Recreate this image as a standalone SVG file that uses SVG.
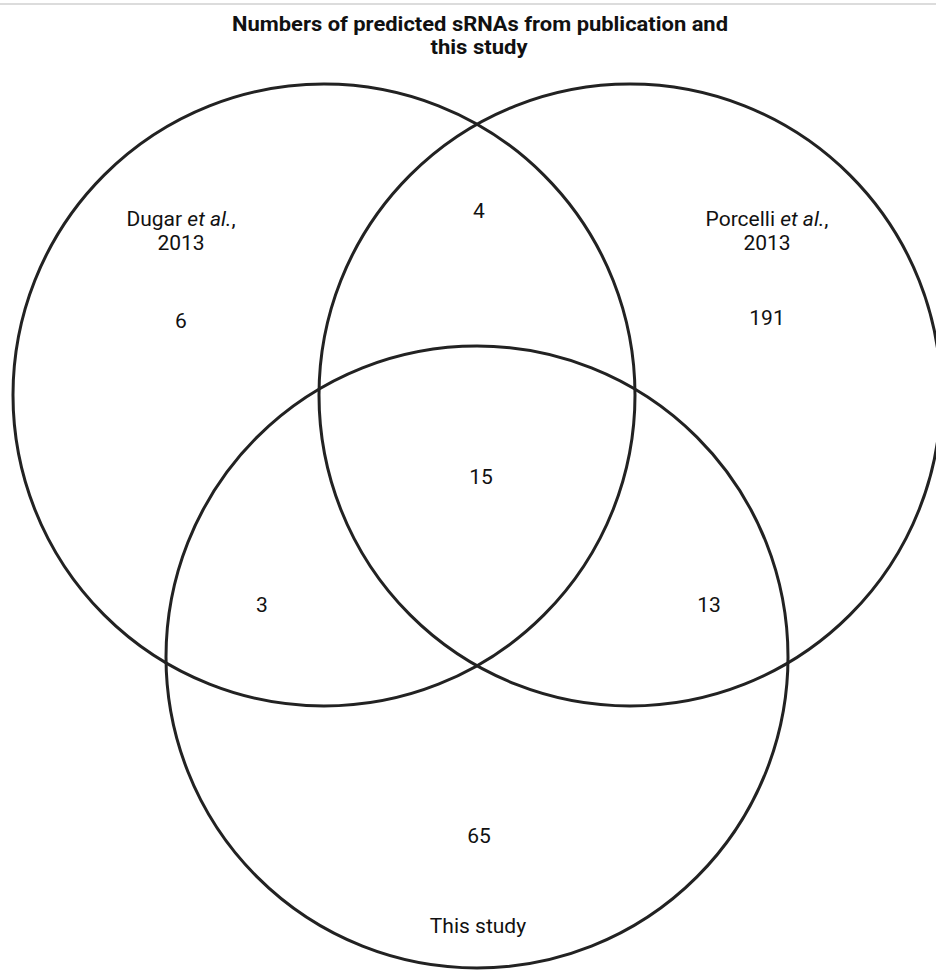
<svg xmlns="http://www.w3.org/2000/svg" width="936" height="970" viewBox="0 0 936 970">
<style>
.set{fill:none;stroke:#222;stroke-width:3}
.lbl{font-family:Roboto,"Liberation Sans",sans-serif;font-size:21px;fill:#111;text-anchor:middle}
.ttl{font-family:Roboto,"Liberation Sans",sans-serif;font-size:21px;font-weight:bold;fill:#111;text-anchor:middle}
</style>
<rect width="936" height="970" fill="#fff"/>
<line x1="0" y1="4" x2="936" y2="4" stroke="#d0d0d0" stroke-width="1.5"/>
<text class="ttl" x="480" y="31" textLength="496" lengthAdjust="spacingAndGlyphs">Numbers of predicted sRNAs from publication and</text>
<text class="ttl" x="479" y="54" textLength="97" lengthAdjust="spacingAndGlyphs">this study</text>
<g id="dugar">
<circle class="set" cx="324" cy="395" r="311"/>
<text class="lbl" x="181" y="226">Dugar <tspan font-style="italic">et al.</tspan>,</text>
<text class="lbl" x="181" y="250">2013</text>
</g>
<g id="porcelli">
<circle class="set" cx="630" cy="395" r="311"/>
<text class="lbl" x="767" y="226">Porcelli <tspan font-style="italic">et al.</tspan>,</text>
<text class="lbl" x="767" y="250">2013</text>
</g>
<g id="thisstudy">
<circle class="set" cx="477" cy="657" r="311"/>
<text class="lbl" x="478" y="933">This study</text>
</g>
<g id="counts">
<text class="lbl" x="181" y="328">6</text>
<text class="lbl" x="479" y="218">4</text>
<text class="lbl" x="767" y="325">191</text>
<text class="lbl" x="481" y="484">15</text>
<text class="lbl" x="262" y="612">3</text>
<text class="lbl" x="709" y="612">13</text>
<text class="lbl" x="479" y="843">65</text>
</g>
</svg>
